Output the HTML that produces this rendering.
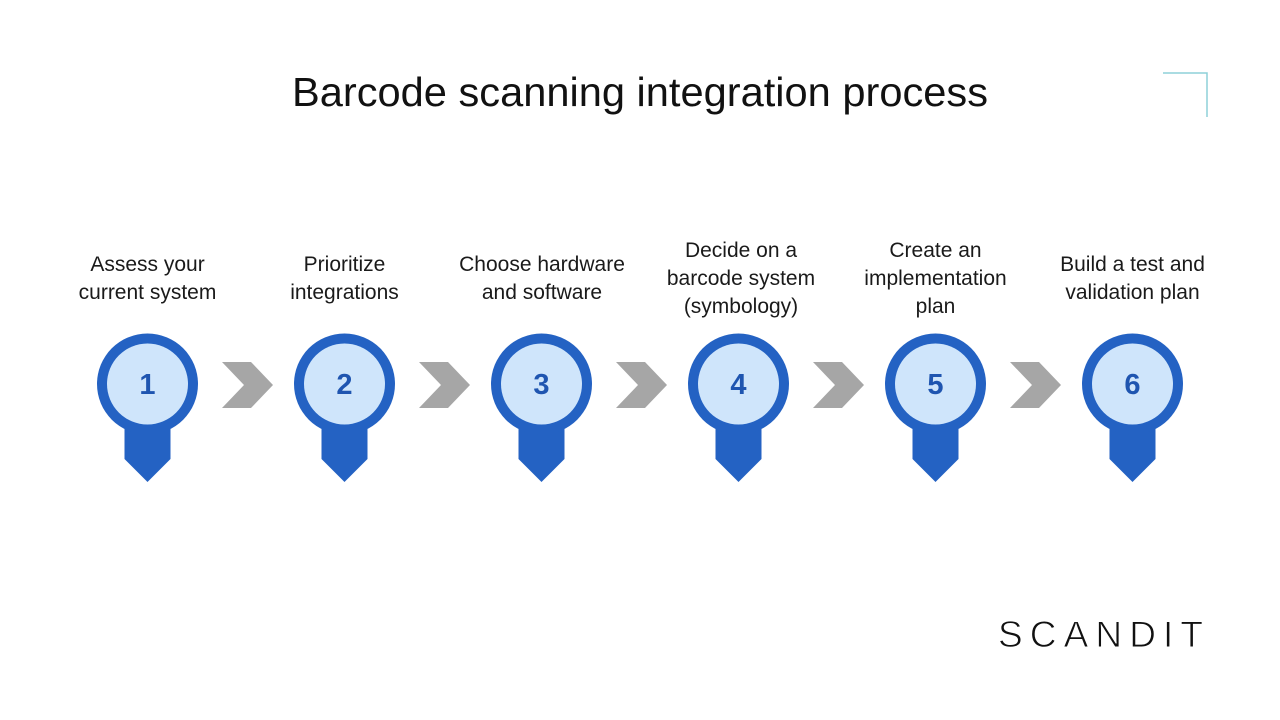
<!DOCTYPE html>
<html>
<head>
<meta charset="utf-8">
<style>
html,body{margin:0;padding:0;background:#fff;}
body{width:1280px;height:720px;overflow:hidden;}
svg{display:block;}
</style>
</head>
<body>
<svg width="1280" height="720" viewBox="0 0 1280 720" xmlns="http://www.w3.org/2000/svg">
  <rect width="1280" height="720" fill="#ffffff"/>
  <text x="292" y="106" textLength="696" lengthAdjust="spacingAndGlyphs" font-family="Liberation Sans, Arial, sans-serif" font-size="41" fill="#111">Barcode scanning integration process</text>
  <polyline points="1163,73 1207,73 1207,117" fill="none" stroke="#8dd0d8" stroke-width="1.5"/>

  <defs>
    <g id="pin">
      <path d="M-23,410 L-23,459 L0,482 L23,459 L23,410 Z" fill="#2462c3"/>
      <circle cx="0" cy="384" r="50.5" fill="#2462c3"/>
      <circle cx="0" cy="384" r="40.5" fill="#cfe5fb"/>
    </g>
    <polygon id="chev" points="222,362 251,362 273,385 251,408 222,408 244,385" fill="#a6a6a6"/>
  </defs>

  <g>
    <use href="#pin" x="147.5"/>
    <use href="#pin" x="344.5"/>
    <use href="#pin" x="541.5"/>
    <use href="#pin" x="738.5"/>
    <use href="#pin" x="935.5"/>
    <use href="#pin" x="1132.5"/>
    <use href="#chev" x="0"/>
    <use href="#chev" x="197"/>
    <use href="#chev" x="394"/>
    <use href="#chev" x="591"/>
    <use href="#chev" x="788"/>
  </g>

  <g font-family="Liberation Sans, Arial, sans-serif" font-weight="bold" font-size="29" fill="#1f55b0" text-anchor="middle">
    <text x="147.5" y="394">1</text>
    <text x="344.5" y="394">2</text>
    <text x="541.5" y="394">3</text>
    <text x="738.5" y="394">4</text>
    <text x="935.5" y="394">5</text>
    <text x="1132.5" y="394">6</text>
  </g>

  <g font-family="Liberation Sans, Arial, sans-serif" font-size="21" fill="#1a1a1a" text-anchor="middle">
    <text x="147.5" y="271">Assess your</text>
    <text x="147.5" y="299">current system</text>
    <text x="344.5" y="271">Prioritize</text>
    <text x="344.5" y="299">integrations</text>
    <text x="542" y="271">Choose hardware</text>
    <text x="542" y="299">and software</text>
    <text x="741" y="257">Decide on a</text>
    <text x="741" y="285">barcode system</text>
    <text x="741" y="313">(symbology)</text>
    <text x="935.5" y="257">Create an</text>
    <text x="935.5" y="285">implementation</text>
    <text x="935.5" y="313">plan</text>
    <text x="1132.5" y="271">Build a test and</text>
    <text x="1132.5" y="299">validation plan</text>
  </g>

  <text x="998" y="647" textLength="205" lengthAdjust="spacing" font-family="Liberation Sans, Arial, sans-serif" font-size="37" fill="#111" stroke="#ffffff" stroke-width="0.9">SCANDIT</text>
</svg>
</body>
</html>
